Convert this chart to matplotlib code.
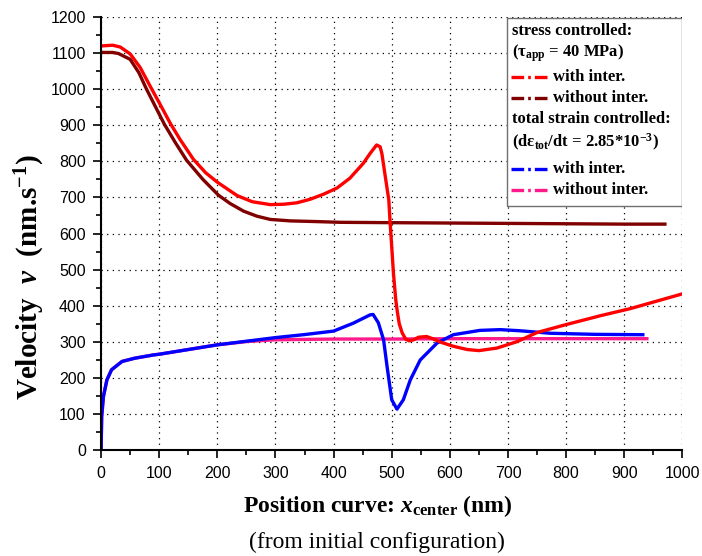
import matplotlib
matplotlib.use('Agg')
import matplotlib.pyplot as plt
from matplotlib.ticker import MultipleLocator
from matplotlib.patches import Rectangle

plt.rcParams['mathtext.fontset'] = 'custom'
plt.rcParams['mathtext.rm'] = 'Liberation Serif:bold'
plt.rcParams['mathtext.bf'] = 'Liberation Serif:bold'
plt.rcParams['mathtext.it'] = 'Liberation Serif:bold:italic'

# Data
# stress controlled, with interaction
x_stress_with = [0, 20, 33, 50, 67, 87, 100, 119, 136, 159, 180, 200, 234, 260, 291,
                 314, 337, 360, 383, 406, 428, 451, 463, 474, 480, 483, 489, 495, 497, 500,
                 503, 507, 510, 513, 518, 524, 530, 538, 546, 560, 572, 583, 606, 630, 650,
                 681, 716, 750, 800, 860, 910, 1000]
v_stress_with = [1119, 1121, 1116, 1097, 1060, 1000, 962, 905, 860, 805, 768, 742, 705, 688, 680,
                 681, 685, 695, 709, 726, 753, 794, 822, 845, 840, 822, 757, 693, 637, 564,
                 490, 416, 380, 350, 325, 308, 303, 306, 313, 315, 308, 300, 288, 279, 276,
                 283, 301, 326, 348, 373, 392, 433]

# stress controlled, without interaction
x_stress_without = [0, 20, 30, 50, 65, 78, 90, 109, 128, 147, 175, 202, 222, 245, 268, 291,
                    325, 371, 412, 500, 600, 700, 800, 900, 970]
v_stress_without = [1101, 1101, 1098, 1082, 1045, 1000, 962, 902, 851, 803, 750, 706, 683, 662, 648, 639,
                    635, 633, 631, 630, 629, 628, 627, 626, 626]

# total strain controlled, with interaction
x_strain_with = [0, 1, 4, 10, 18, 36, 58, 90, 100, 200, 300, 348, 400, 434, 463, 468,
                 477, 486, 492, 500, 509, 520, 532, 549, 578, 606, 652, 687, 720, 773, 850, 932]
v_strain_with = [0, 94, 149, 195, 223, 246, 255, 264, 266, 292, 312, 320, 330, 352, 375, 376,
                 353, 306, 232, 140, 114, 140, 195, 250, 297, 320, 332, 334, 331, 324, 321, 320]

# total strain controlled, without interaction
x_strain_without = [0, 1, 4, 10, 18, 36, 58, 90, 100, 200, 250, 300, 350, 400, 500, 600,
                    700, 800, 939]
v_strain_without = [0, 94, 149, 195, 223, 246, 255, 264, 266, 292, 301, 306, 307, 308, 308, 309,
                     309, 309, 309]

c_red, c_dark, c_blue, c_pink = '#FF0000', '#800000', '#0000FF', '#FF1A8C'

fig = plt.figure(figsize=(7.02, 5.56), dpi=100)
ax = fig.add_axes([0.144, 0.19, 0.828, 0.78])

lw = 2.4
ax.plot(x_strain_without, v_strain_without, color=c_pink, lw=lw)
ax.plot(x_strain_with, v_strain_with, color=c_blue, lw=lw)
ax.plot(x_stress_without, v_stress_without, color=c_dark, lw=lw)
ax.plot(x_stress_with, v_stress_with, color=c_red, lw=lw)

ax.set_xlim(0, 1000)
ax.set_ylim(0, 1200)
ax.xaxis.set_major_locator(MultipleLocator(100))
ax.xaxis.set_minor_locator(MultipleLocator(50))
ax.yaxis.set_major_locator(MultipleLocator(100))
ax.yaxis.set_minor_locator(MultipleLocator(50))
ax.grid(True, which='major', color='black', linestyle=(0, (1, 3.5)), linewidth=0.9)
ax.set_axisbelow(True)

for s in ['top', 'right']:
    ax.spines[s].set_visible(False)
for s in ['left', 'bottom']:
    ax.spines[s].set_linewidth(1.5)
ax.tick_params(which='major', direction='out', length=6, width=1.2, pad=5,
               labelsize=11.5)
ax.tick_params(which='minor', direction='out', length=3.5, width=1.2)
for lab in ax.get_xticklabels() + ax.get_yticklabels():
    lab.set_fontfamily('Liberation Sans')

ax.set_ylabel(r'Velocity  $v$  (nm.s$^{\mathregular{-1}}$)', fontfamily='Liberation Serif',
              fontweight='bold', fontsize=21, va='center', ha='center')
ax.yaxis.set_label_coords(-0.122, 0.40)
ax.set_xlabel(r'Position curve: $x_{\mathrm{center}}$ (nm)', fontfamily='Liberation Serif',
              fontweight='bold', fontsize=17, va='center', ha='center')
ax.xaxis.set_label_coords(0.475, -0.128)
ax.text(0.475, -0.212, '(from initial configuration)', transform=ax.transAxes,
        fontfamily='Liberation Serif', fontsize=17, ha='center', va='center')

# legend box
ax.add_patch(Rectangle((0.699, 0.564), 0.301, 0.433, transform=ax.transAxes,
                       facecolor='white', edgecolor='#707070', lw=1.0, zorder=5))
tkw = dict(transform=ax.transAxes, fontfamily='Liberation Serif', fontweight='bold',
           fontsize=12, va='center', ha='left', zorder=6)
ax.text(0.707, 0.967, 'stress controlled:', **tkw)
ax.text(0.707, 0.916, r'($\mathregular{\tau}_{\mathrm{app}}$ = 40 MPa)', **tkw)
ax.text(0.707, 0.764, 'total strain controlled:', **tkw)
ax.text(0.707, 0.709, r'(d$\mathregular{\varepsilon}_{\mathrm{tot}}$/dt = 2.85*10$^{\mathregular{-3}}$)', **tkw)
entries = [(0.861, c_red, 'with inter.'), (0.812, c_dark, 'without inter.'),
           (0.649, c_blue, 'with inter.'), (0.601, c_pink, 'without inter.')]
for yy, col, lab in entries:
    ax.plot([0.706, 0.773], [yy, yy], transform=ax.transAxes, color=col, lw=lw,
            linestyle=(0, (3.8, 1.2, 0.8, 1.2)), zorder=6, clip_on=False)
    ax.text(0.778, yy, lab, **tkw)

fig.savefig('out.png', dpi=100)
